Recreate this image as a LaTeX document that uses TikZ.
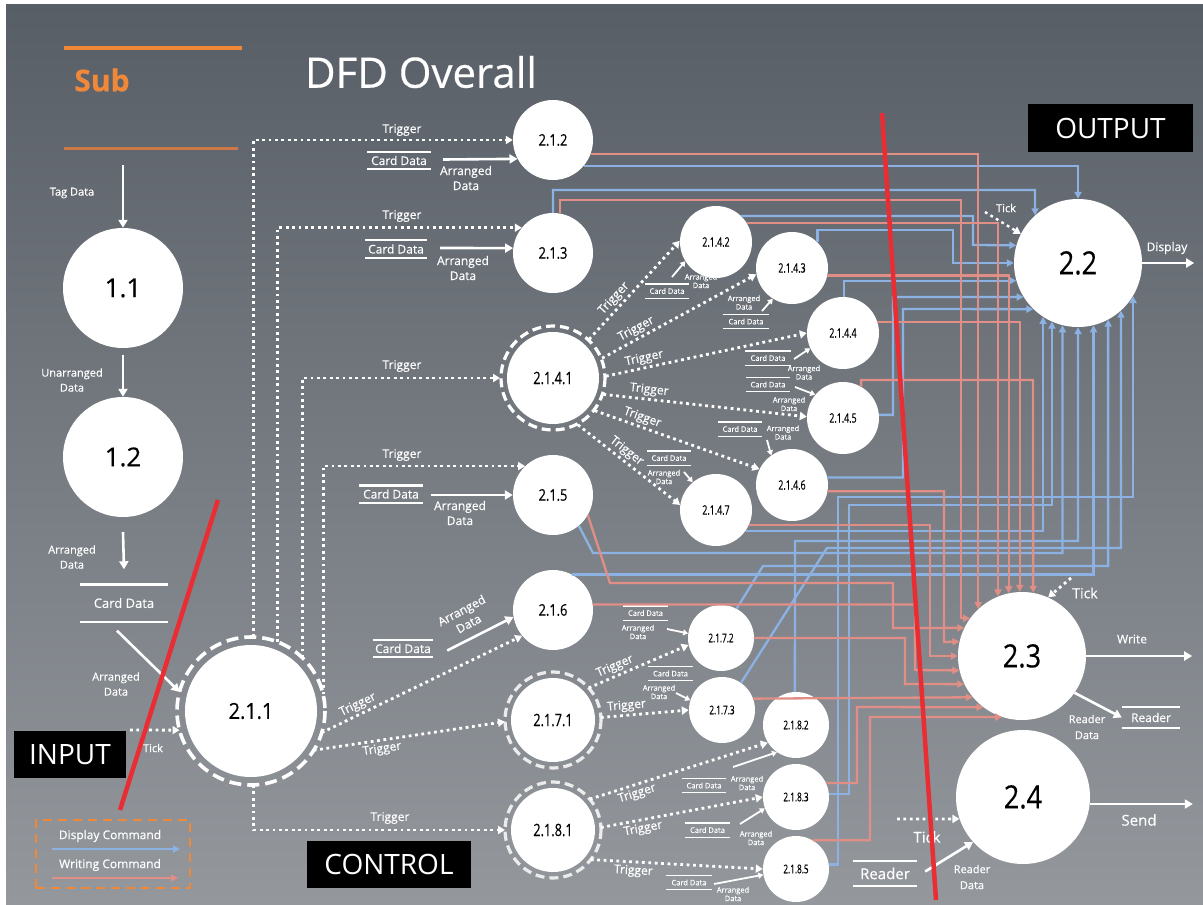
\documentclass[tikz,border=0pt]{standalone}
\usepackage{fontspec}
\usepackage{graphicx}
\setmainfont{Open Sans}[FakeBold=0.35]
\newfontfamily\plainf{Open Sans}
\usetikzlibrary{arrows.meta,calc}
\definecolor{bgtop}{RGB}{88,94,102}
\definecolor{bgmid}{RGB}{100,105,112}
\definecolor{bgbot}{RGB}{148,152,157}
\definecolor{pkc}{RGB}{224,142,134}
\definecolor{blc}{RGB}{140,178,228}
\definecolor{orgc}{RGB}{240,136,58}
\definecolor{orgd}{RGB}{205,120,70}
\definecolor{redc}{RGB}{233,45,50}
\newcommand{\cnd}[2]{\scalebox{#1}[1]{#2}}
\newcommand{\fs}[1]{\fontsize{#1}{#1}\selectfont}
\tikzset{
  proc/.style={circle, fill=white, inner sep=0pt, text=black, minimum size=#1},
  lab/.style={text=white, font=\fontsize{12}{15}\selectfont, inner sep=0pt, align=center},
  slab/.style={text=white, font=\fontsize{7.5}{8.5}\selectfont, inner sep=0pt, align=center},
  warr/.style={white, line width=2.6pt, -{Triangle[width=9pt,length=8pt]}},
  swarr/.style={white, line width=1.8pt, -{Triangle[width=6pt,length=5pt]}},
  trig/.style={white, line width=2.8pt, dash pattern=on 2.8pt off 3.6pt, -{Triangle[width=8pt,length=7pt]}},
  bline/.style={blc, line width=2.3pt, -{Triangle[width=7pt,length=7pt]}},
  pline/.style={pkc, line width=2.3pt, -{Triangle[width=7pt,length=7pt]}},
  stl/.style={white, line width=#1},
  store/.style={text=white, inner sep=0pt, minimum width=#1, append after command={(\tikzlastnode.north west) edge[stl=2.4pt] (\tikzlastnode.north east) (\tikzlastnode.south west) edge[stl=2.4pt] (\tikzlastnode.south east)}},
  sstore/.style={text=white, inner sep=0pt, font=\fontsize{7.5}{8}\selectfont, minimum width=#1, minimum height=14, append after command={(\tikzlastnode.north west) edge[stl=1.4pt] (\tikzlastnode.north east) (\tikzlastnode.south west) edge[stl=1.4pt] (\tikzlastnode.south east)}},
  ring/.style={white, line width=3.2pt, dash pattern=on 9pt off 5pt},
  blackbox/.style={fill=black, text=white, inner sep=0pt, font=\plainf\fs{28}},
}
\begin{document}
\begin{tikzpicture}[x=1pt,y=-1pt]
\useasboundingbox (0,0) rectangle (1203,905);
\fill[white] (0,0) rectangle (1203,905);
\shade[top color=bgtop, middle color=bgmid, bottom color=bgbot] (6,4) rectangle (1203,905);

% header
\draw[orgc, line width=4pt] (64,48) -- (242,48);
\node[text=orgc, font=\bfseries\fs{30}, inner sep=0pt] (sub) at (102,80) {Sub};
\draw[orgd, line width=3pt] (64,148) -- (238,148);
\node[text=white, font=\fs{42}, inner sep=0pt] (title) at (421,72) {DFD Overall};

% processes
\node[proc=120, font=\fs{26}] (N11) at (123,288) {1.1};
\node[proc=120, font=\fs{26}] (N12) at (123,457) {1.2};
\node[proc=132, outer sep=8pt, font=\fs{22}] (N211) at (251,711) {\cnd{0.9}{2.1.1}};
\draw[ring, line width=3.6pt, dash pattern=on 12pt off 6pt] (N211.center) circle[radius=74];
\node[proc=80, font=\fs{16}] (N212) at (553,140) {\cnd{0.8}{2.1.2}};
\node[proc=80, font=\fs{16}] (N213) at (553,253) {\cnd{0.8}{2.1.3}};
\node[proc=92, outer sep=7pt, font=\fs{17}] (N2141) at (553,378) {\cnd{0.75}{2.1.4.1}};
\draw[ring] (N2141.center) circle[radius=52];
\node[proc=80, font=\fs{16}] (N215) at (553,495) {\cnd{0.8}{2.1.5}};
\node[proc=80, font=\fs{16}] (N216) at (553,610) {\cnd{0.8}{2.1.6}};
\node[proc=84, outer sep=6pt, font=\fs{17}] (N2171) at (553,720) {\cnd{0.75}{2.1.7.1}};
\draw[ring, white!85!gray] (N2171.center) circle[radius=48];
\node[proc=84, outer sep=6pt, font=\fs{17}] (N2181) at (553,830) {\cnd{0.75}{2.1.8.1}};
\draw[ring, white!85!gray] (N2181.center) circle[radius=48];
\node[proc=72, font=\fs{13}] (N2142) at (716,242) {\cnd{0.68}{2.1.4.2}};
\node[proc=72, font=\fs{13}] (N2143) at (792,268) {\cnd{0.68}{2.1.4.3}};
\node[proc=72, font=\fs{13}] (N2144) at (843,333) {\cnd{0.68}{2.1.4.4}};
\node[proc=72, font=\fs{13}] (N2145) at (843,418) {\cnd{0.68}{2.1.4.5}};
\node[proc=72, font=\fs{13}] (N2146) at (792,485) {\cnd{0.68}{2.1.4.6}};
\node[proc=72, font=\fs{13}] (N2147) at (716,510) {\cnd{0.68}{2.1.4.7}};
\node[proc=66, font=\fs{12}] (N2172) at (721,638) {\cnd{0.68}{2.1.7.2}};
\node[proc=66, font=\fs{12}] (N2173) at (722,710) {\cnd{0.68}{2.1.7.3}};
\node[proc=66, font=\fs{12}] (N2182) at (796,725) {\cnd{0.68}{2.1.8.2}};
\node[proc=66, font=\fs{12}] (N2183) at (796,797) {\cnd{0.68}{2.1.8.3}};
\node[proc=66, font=\fs{12}] (N2185) at (796,869) {\cnd{0.68}{2.1.8.5}};
\node[proc=128, font=\fs{32}] (N22) at (1078,263) {\cnd{0.85}{2.2}};
\node[proc=128, font=\fs{32}] (N23) at (1022,656) {\cnd{0.85}{2.3}};
\node[proc=134, font=\fs{32}] (N24) at (1023,797) {\cnd{0.85}{2.4}};

% left column flow
\coordinate (tags) at (123,165);
\draw[warr] (tags) -- (N11.north);
\node[lab, font=\fs{11}] (tagl) at (72,193) {Tag Data};
\draw[warr] ($(N11.south)+(0,7)$) -- (N12.north);
\node[lab, font=\fontsize{11}{15}\selectfont] (unl) at (72,380) {Unarranged\\Data};
\node[store=88, minimum height=37, font=\fs{13}] (cds) at (124,603) {Card Data};
\draw[warr] ($(N12.south)+(0,15)$) -- ($(cds.north)+(0,-15)$);
\node[lab, font=\fontsize{11}{15}\selectfont] (adl1) at (72,557) {Arranged\\Data};
\draw[warr] ($(cds.south)+(-7,9)$) -- (N211.165);
\node[lab, font=\fontsize{11}{15}\selectfont] (adl2) at (116,684) {Arranged\\Data};
\coordinate (tk1) at (130,730);
\draw[trig] (tk1) -- (N211.195);
\node[lab, font=\fs{11}] (tk1l) at (153,748) {Tick};

% triggers from 2.1.1
\draw[trig] (N211.88) |- (N212.west);
\draw[trig] (N211.69) |- (N213.141);
\draw[trig] (N211.46) |- (N2141.west);
\draw[trig] (N211.13) |- (N215.134);
\draw[trig] (N211.-17) -- node[lab, sloped, above=2pt, pos=0.2] (tg5) {Trigger} (N216.220);
\draw[trig] (N211.-32) -- node[lab, sloped, below=2pt, pos=0.35] (tg6) {Trigger} (N2171.182);
\draw[trig] (N211.-88) |- (N2181.west);
\node[lab] (tg1) at (402,130) {Trigger};
\node[lab] (tg2) at (402,216) {Trigger};
\node[lab] (tg3) at (402,366) {Trigger};
\node[lab] (tg4) at (402,455) {Trigger};
\node[lab] (tg7) at (390,818) {Trigger};

% stores for 2.1.2 .. 2.1.6
\node[store=64, minimum height=17, font=\fs{12}] (S212) at (399,160.5) {Card Data};
\draw[warr] ($(S212.east)+(12,-1)$) -- (N212.208);
\node[lab] (ad212) at (466,178) {Arranged\\Data};
\node[store=62, minimum height=18, font=\fs{12}] (S213) at (396,249) {Card Data};
\draw[warr] ($(S213.east)+(13,-1)$) -- (N213.173);
\node[lab] (ad213) at (463,268) {Arranged\\Data};
\node[store=63, minimum height=17, font=\fs{12}] (S215) at (391,494) {Card Data};
\draw[warr] ($(S215.east)+(8,1)$) -- (N215.180);
\node[lab] (ad215) at (460,513) {Arranged\\Data};
\node[store=60, minimum height=17, font=\fs{12}] (S216) at (403,648.5) {Card Data};
\draw[warr] ($(S216.east)+(14,2)$) -- (N216.190);
\node[lab, rotate=28] (ad216) at (465,617) {Arranged\\Data};

% triggers from 2.1.4.1
\draw[trig] (N2141.47) -- node[lab, sloped, above=2pt, pos=0.35] (tg41) {Trigger} (N2142.178);
\draw[trig] (N2141.22) -- node[lab, sloped, above=2pt, pos=0.25] (tg42) {Trigger} (N2143.190);
\draw[trig] (N2141.2) -- node[lab, sloped, above=2pt, pos=0.2] (tg43) {Trigger} (N2144.180);
\draw[trig] (N2141.-18) -- node[lab, sloped, above=2pt, pos=0.22] (tg44) {Trigger} (N2145.178);
\draw[trig] (N2141.-38) -- node[lab, sloped, above=2pt, pos=0.27] (tg45) {Trigger} (N2146.154);
\draw[trig] (N2141.-62) -- node[lab, sloped, above=2pt, pos=0.42] (tg46) {Trigger} (N2147.172);
% triggers from 2.1.7.1 and 2.1.8.1
\draw[trig] (N2171.42) -- node[lab, sloped, above=2pt, pos=0.3] (tg71) {Trigger} (N2172.192);
\draw[trig] (N2171.3) -- node[lab, sloped, above=2pt, pos=0.3] (tg72) {Trigger} (N2173.180);
\draw[trig] (N2181.40) -- node[lab, sloped, below=2pt, pos=0.25] (tg81) {Trigger} (N2182.212);
\draw[trig] (N2181.3) -- node[lab, sloped, below=2pt, pos=0.25] (tg82) {Trigger} (N2183.180);
\draw[trig] (N2181.-38) -- node[lab, sloped, below=2pt, pos=0.25] (tg83) {Trigger} (N2185.180);

% small stores
\node[sstore=43] (S2142) at (667,291) {Card Data};
\node[slab] (a2142) at (701,281) {Arranged\\Data};
\draw[swarr] (672,277) -- (N2142.212);
\node[sstore=45] (S2143) at (746,321.5) {Card Data};
\node[slab] (a2143) at (744,302.5) {Arranged\\Data};
\draw[swarr] (762,311) -- (N2143.238);
\node[sstore=45] (S2144) at (768,358) {Card Data};
\node[slab] (a2144) at (804,372.5) {Arranged\\Data};
\draw[swarr] (794,359) -- (N2144.205);
\node[sstore=44] (S2145) at (768,384.5) {Card Data};
\node[slab] (a2145) at (789,404) {Arranged\\Data};
\draw[swarr] (795,387) -- (N2145.140);
\node[sstore=44] (S2146) at (740,429) {Card Data};
\node[slab] (a2146) at (783,432.5) {Arranged\\Data};
\draw[swarr] (767,440) -- (N2146.125);
\node[sstore=43] (S2147) at (669,458) {Card Data};
\node[slab] (a2147) at (664,477) {Arranged\\Data};
\draw[swarr] (684,472) -- (N2147.130);
\node[sstore=45] (S2172) at (645.5,613) {Card Data};
\node[slab] (a2172) at (638,632) {Arranged\\Data};
\draw[swarr] (667,629) -- (N2172.172);
\node[sstore=45] (S2173) at (670.5,673.5) {Card Data};
\node[slab] (a2173) at (659,692) {Arranged\\Data};
\draw[swarr] (676,693) -- (N2173.163);
\node[sstore=44] (S2182) at (704,785.5) {Card Data};
\node[slab] (a2182) at (747,783) {Arranged\\Data};
\draw[swarr] (733,767) -- (N2182.235);
\node[sstore=45] (S2183) at (707.5,830) {Card Data};
\node[slab] (a2183) at (756,838) {Arranged\\Data};
\draw[swarr] (740,824) -- (N2183.200);
\node[sstore=45] (S2185) at (689,882.5) {Card Data};
\node[slab] (a2185) at (733,894) {Arranged\\Data};
\draw[swarr] (714,884) -- (N2185.190);

% display command lines (blue) to 2.2
\draw[bline] (N212.-40) -| (N22.90);
\draw[bline] (N213.90) |- (1035,190) -- (N22.132);
\draw[bline] (N2142.46) -| (973,245) -- (N22.164);
\draw[bline] (N2143.45) |- (953,230) |- (N22.180);
\draw[bline] (N2144.88) |- (N22.196);
\draw[bline] (N2145.5) -| (893,297) -- (N22.212);
\draw[bline] (N2146.12) -| (903,309) -- (N22.226);
\draw[bline] (N2147.-35) -| (N22.237);
\draw[bline] (N2183.5) -| (849,505) -| (N22.246);
\draw[bline] (N215.-50) -- (593,553) -| (N22.256);
\draw[bline] (N2182.92) -- (795,541) -| (N22.270);
\draw[bline] (N216.62) -| (N22.284);
\draw[bline] (N2172.62) -- (763,566) -| (N22.298);
\draw[bline] (N2173.55) -- (827,548) -| (N22.312);
\draw[bline] (N2185.8) -| (838,497) -| (N22.329);

% writing command lines (pink) to 2.3
\draw[pline] (N212.-20) -| (N23.133);
\draw[pline] (N213.80) |- (961,200) |- (N23.144);
\draw[pline] (N2142.32) -| (N23.112);
\draw[pline] (N2143.-12) -| (N23.102);
\draw[pline] (N2144.18) -| (N23.92);
\draw[pline] (N2145.60) |- (1033,380) -- (N23.80);
\draw[pline] (N2146.-10) -| (944,642) -- (N23.167);
\draw[pline] (N2147.-25) -| (930,656) -- (N23.180);
\draw[pline] (N215.-30) -- (610,583) -| (893,628) -- (N23.154);
\draw[pline] (N216.8) -| (915,670) -- (N23.193);
\draw[pline] (N2172.0) -| (905,684) -- (N23.206);
\draw[pline] (N2173.20) -- (N23.220);
\draw[pline] (N2183.25) -| (857,707) -- (N23.233);
\draw[pline] (N2185.60) -| (870,717) -- (N23.252);

% outputs
\coordinate (tk22) at (985,212);
\draw[trig, line width=2.4pt] (tk22) -- (N22.153);
\node[lab, font=\fs{11}] (tk22l) at (1006,208) {Tick};
\draw[warr] (N22.east) -- ++(52,0) coordinate (disp);
\node[lab] (displ) at (1167,248) {Display};
\coordinate (tk23) at (1071,578);
\draw[trig] (tk23) -- (N23.66);
\node[lab, font=\fs{14}] (tk23l) at (1085,593) {Tick};
\draw[warr] (N23.east) -- ++(106,0) coordinate (wr);
\node[lab] (wrl) at (1132,639) {Write};
\node[store=58, minimum height=21, font=\fs{12}] (Srd) at (1151,717.5) {Reader};
\draw[warr] (N23.-35) -- (Srd.west);
\node[lab, font=\fontsize{11}{16}\selectfont] (rdl) at (1087,727) {Reader\\Data};
\draw[warr] (N24.-6) -- ++(103,0) coordinate (snd);
\node[lab, font=\fs{15}] (sndl) at (1139,820) {Send};
\coordinate (tk24) at (897,819);
\draw[trig] (tk24) -- (N24.199);
\node[lab, font=\fs{15}] (tk24l) at (927,837) {Tick};
\node[store=64, minimum height=25, font=\fs{15}] (Srd2) at (885,873.5) {Reader};
\draw[warr] ($(Srd2.east)+(8,-2)$) -- (N24.222);
\node[lab, font=\fontsize{11}{16}\selectfont] (rd2l) at (972,877) {Reader\\Data};

% area labels
\node[blackbox, minimum width=112, minimum height=47] (inb) at (70,754.5) {INPUT};
\node[blackbox, minimum width=165, minimum height=48] (outb) at (1110.5,128) {OUTPUT};
\node[blackbox, minimum width=164, minimum height=47] (ctlb) at (389,864.5) {CONTROL};

% legend
\node[draw=orgc, line width=2.5pt, dash pattern=on 9pt off 6pt, minimum width=154, minimum height=68, inner sep=0pt] (leg) at (113,854) {};
\node[lab, font=\fs{12}] (ldc) at (110,836) {Display Command};
\coordinate (lb1) at (52,849);
\coordinate (lb2) at (180,849);
\draw[bline, line width=2.6pt] (lb1) -- (lb2);
\node[lab, font=\fs{12}] (lwc) at (110,865) {Writing Command};
\coordinate (lp1) at (52,878);
\coordinate (lp2) at (178,878);
\draw[pline, line width=2.6pt] (lp1) -- (lp2);

% red boundary lines
\draw[redc, line width=4.5pt] (218,500) -- (120,810);
\draw[redc, line width=4.5pt] (882,113) -- (936,900);
\end{tikzpicture}
\end{document}
